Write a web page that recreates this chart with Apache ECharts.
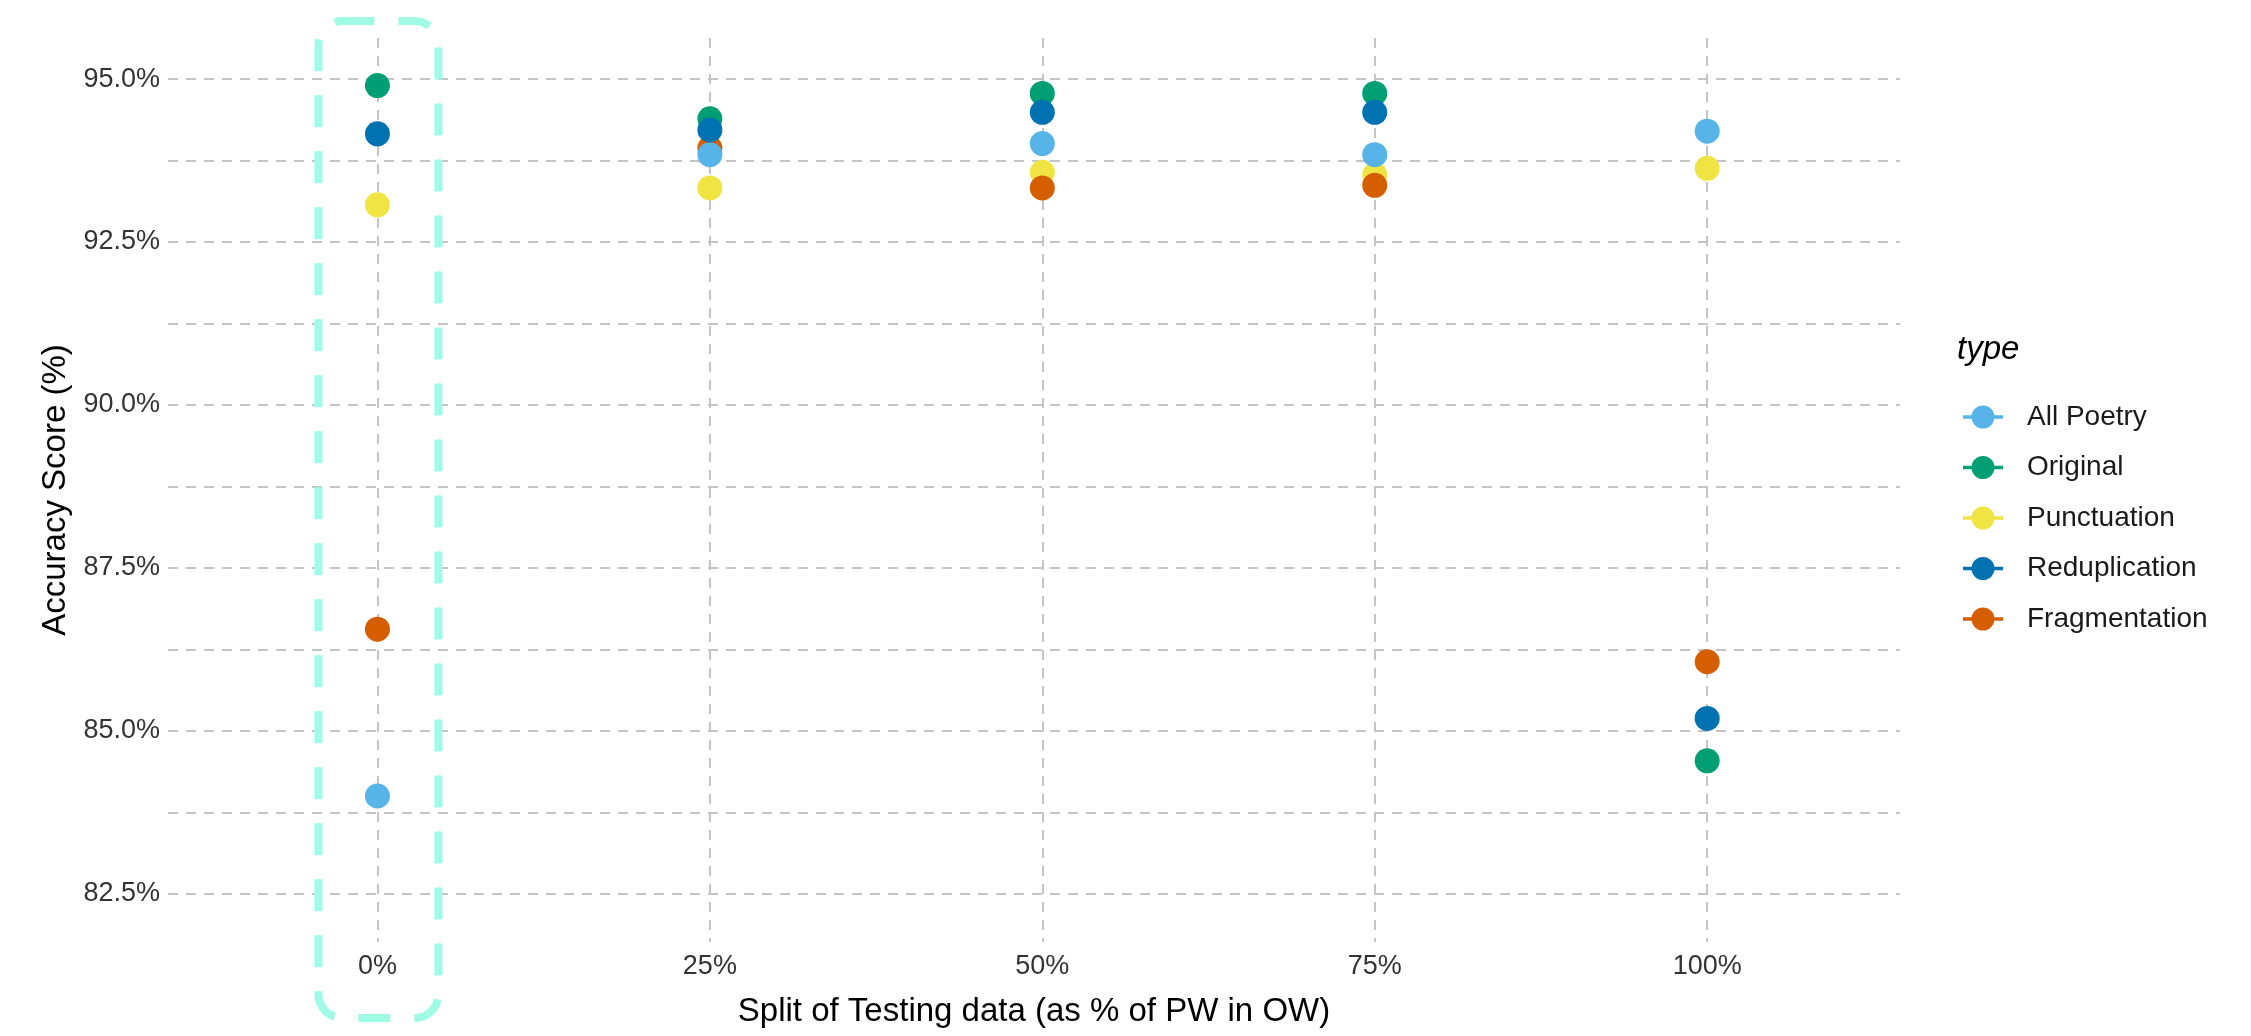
<!DOCTYPE html>
<html><head><meta charset="utf-8">
<script src="https://cdn.jsdelivr.net/npm/echarts@6/dist/echarts.min.js"></script>
<style>html,body{margin:0;padding:0;background:#fff}#c{width:2251px;height:1036px}</style>
</head><body><div id="c"></div>
<script>
// ---- data ----
const categories = ['0%', '25%', '50%', '75%', '100%'];
const seriesNames = ['All Poetry', 'Original', 'Punctuation', 'Reduplication', 'Fragmentation'];
const allPoetry     = [84.0, 93.84, 94.01, 93.84, 94.20];
const original      = [94.90, 94.39, 94.78, 94.78, 84.54];
const punctuation   = [93.07, 93.33, 93.57, 93.53, 93.63];
const reduplication = [94.16, 94.22, 94.49, 94.49, 85.19];
const fragmentation = [86.56, 93.94, 93.33, 93.37, 86.06];
const yTickLabels = [82.5, 85.0, 87.5, 90.0, 92.5, 95.0];
const yGridValues = [82.5, 83.75, 85.0, 86.25, 87.5, 88.75, 90.0, 91.25, 92.5, 93.75, 95.0];
const xTitle = 'Split of Testing data (as % of PW in OW)';
const yTitle = 'Accuracy Score (%)';
const legendTitle = 'type';

// ---- styling ----
const colors = ['#56B4E9', '#009E73', '#F0E442', '#0072B2', '#D55E00'];
const zOrder = [4, 5, 2, 6, 3];
const FONT = 'Liberation Sans, Arial, sans-serif';
const gridLine = { show: true, lineStyle: { color: '#C4C4C4', width: 2, type: [10, 8] } };
const legendIcon = 'path://M0,10.3H9V13.7H0Z M31,10.3H40V13.7H31Z M8.5,12a11.5,11.5 0 1,1 23,0a11.5,11.5 0 1,1 -23,0Z';

const valuesBySeries = [allPoetry, original, punctuation, reduplication, fragmentation];
const series = seriesNames.map((name, s) => ({
  name: name,
  type: 'scatter',
  symbol: 'circle',
  symbolSize: 25,
  z: zOrder[s],
  itemStyle: { color: colors[s], opacity: 1 },
  data: valuesBySeries[s].map((v, i) => [i, v])
}));

const chart = echarts.init(document.getElementById('c'), null, { renderer: 'canvas' });
chart.setOption({
  backgroundColor: '#ffffff',
  animation: false,
  textStyle: { fontFamily: FONT },
  grid: { left: 168, right: 351, top: 38, bottom: 94, containLabel: false },
  title: {
    text: legendTitle, left: 1957, top: 333,
    textStyle: { fontFamily: FONT, fontSize: 33, fontStyle: 'italic', fontWeight: 'normal', color: '#000' },
    padding: 0
  },
  legend: {
    orient: 'vertical', left: 1963, top: 403, padding: 0,
    itemWidth: 40, itemHeight: 24, itemGap: 22.5,
    icon: legendIcon,
    data: seriesNames,
    textStyle: { fontFamily: FONT, fontSize: 28, color: '#1a1a1a', padding: [0, 0, 0, 19] }
  },
  xAxis: {
    type: 'value', min: -0.63, max: 4.58,
    name: xTitle, nameLocation: 'middle', nameGap: 53,
    nameTextStyle: { fontFamily: FONT, fontSize: 33, color: '#000' },
    axisLine: { show: false }, axisTick: { show: false, customValues: [0, 1, 2, 3, 4] },
    axisLabel: { customValues: [0, 1, 2, 3, 4], formatter: v => categories[Math.round(v)], margin: 11,
      fontFamily: FONT, fontSize: 27, color: '#333333' },
    splitLine: gridLine
  },
  yAxis: {
    type: 'value', min: 81.76, max: 95.63,
    name: yTitle, nameLocation: 'middle', nameGap: 92,
    nameTextStyle: { fontFamily: FONT, fontSize: 33, color: '#000' },
    axisLine: { show: false }, axisTick: { show: false, customValues: yGridValues },
    axisLabel: { customValues: yTickLabels, formatter: v => v.toFixed(1) + '%', margin: 8,
      fontFamily: FONT, fontSize: 27, color: '#333333' },
    splitLine: gridLine
  },
  series: series
});

// dashed highlight box around the first category, positioned via the axis scale
const cx = chart.convertToPixel({ xAxisIndex: 0 }, 0);
chart.setOption({
  graphic: [{
    type: 'rect', z: 100,
    shape: { x: cx - 59, y: 21, width: 120, height: 997, r: 24 },
    style: { fill: null, stroke: '#9FFBE3', lineWidth: 8, lineDash: [32, 24] }
  }]
});
</script>
</body></html>
